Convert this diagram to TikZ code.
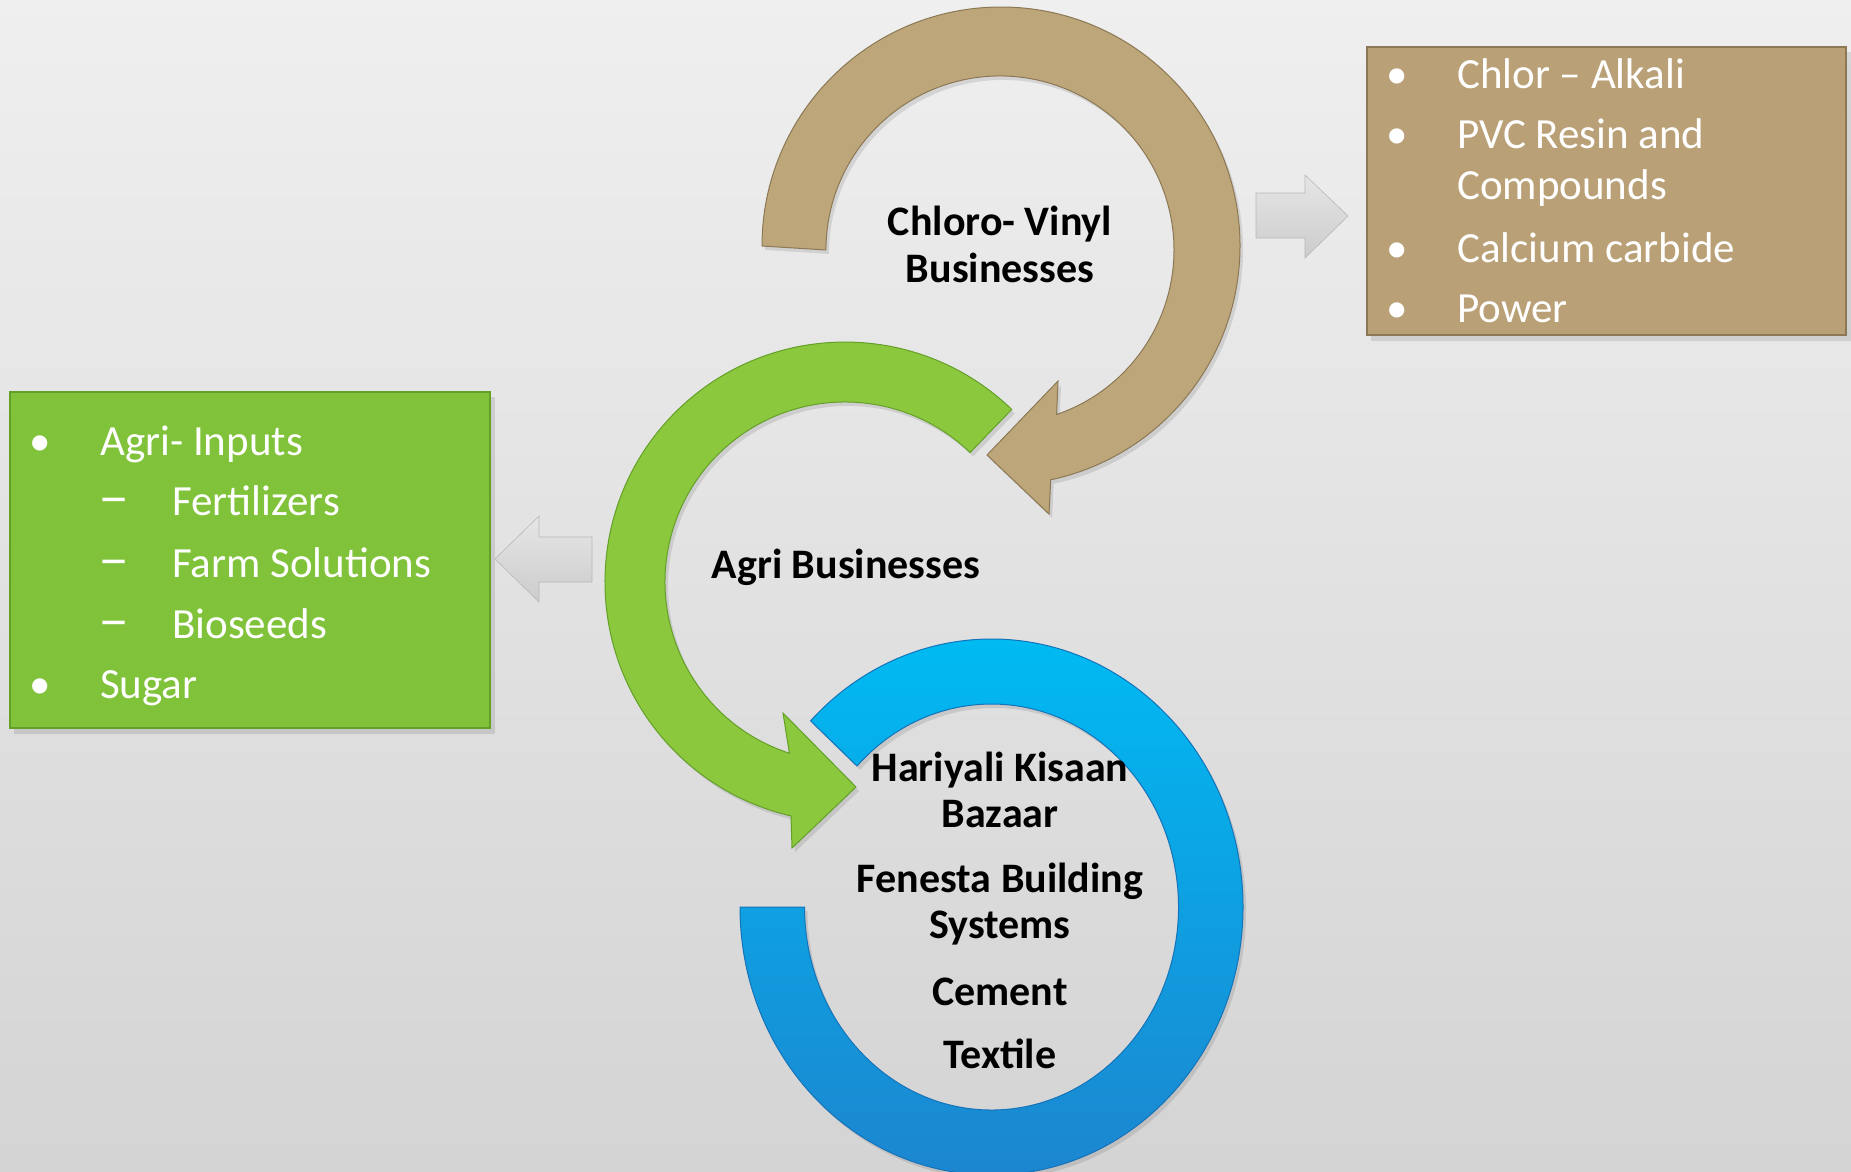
\documentclass[tikz,border=0pt]{standalone}
\usepackage{graphicx}
\usepackage{fontspec}
\setmainfont{Carlito}
\definecolor{tanc}{RGB}{188,166,122}
\definecolor{tanbox}{RGB}{185,160,118}
\definecolor{tanedge}{RGB}{140,120,84}
\definecolor{grnc}{RGB}{139,200,62}
\definecolor{grnbox}{RGB}{128,194,58}
\definecolor{grnedge}{RGB}{100,160,40}
\definecolor{bluetop}{RGB}{0,186,242}
\definecolor{bluebot}{RGB}{28,134,208}
\definecolor{blueedge}{RGB}{20,115,185}
\definecolor{bgtop}{RGB}{239,239,239}
\definecolor{bgbot}{RGB}{212,212,212}
\definecolor{arrtop}{RGB}{230,230,230}
\definecolor{arrbot}{RGB}{204,204,204}
\newcommand\TanArc{(762,246) arc[start angle=180, end angle=438, radius=239pt] -- (1049,514) -- (987,455) -- (1058,381) -- (1056.6,414.5) arc[start angle=431, end angle=180, radius=174pt] -- cycle}
\newcommand\GreenArc{(1011.7,409.4) arc[start angle=314, end angle=103, radius=240pt] -- (792,848) -- (856,787) -- (783,713) -- (789.4,753.2) arc[start angle=108, end angle=314, radius=180pt] -- cycle}
\newcommand\BlueArc{(740,907) arc[start angle=180, end angle=-136, x radius=251.5pt, y radius=268pt] -- (857,766) arc[start angle=-136, end angle=180, x radius=187pt, y radius=203pt] -- cycle}
\newcommand\SubDash{\scalebox{1.45}[1.3]{–}}
\tikzset{
  lbl/.style={font=\fontsize{42}{47}\selectfont\bfseries, text=black, inner sep=0pt, anchor=base},
  itm/.style={font=\fontsize{43}{50}\selectfont, text=white, inner sep=0pt, anchor=base west},
  bul/.style={font=\fontsize{43}{50}\selectfont, text=white, inner sep=0pt, anchor=base},
  shad/.style={fill=black, opacity=0.10},
  greyarrow/.style={top color=arrtop, bottom color=arrbot, draw=arrbot!90!black, line width=0.6pt}
}
\begin{document}
\begin{tikzpicture}[x=1pt,y=1pt,yscale=-1]
\useasboundingbox (0,0) rectangle (1851,1171);
\fill[top color=bgtop, bottom color=bgbot] (0,0) rectangle (1851,1171);

% boxes with shadows
\fill[shad] (1371,52) rectangle (1851,341);
\fill[shad] (14,397) rectangle (495,734);
\path[fill=tanbox, draw=tanedge, line width=1.2pt] (1367,47) rectangle (1846,335);
\path[fill=grnbox, draw=grnedge, line width=1.2pt] (10,392) rectangle (490,728);

% grey block arrows
\path[greyarrow] (1256,193) -- (1305,193) -- (1305,175) -- (1348,216) -- (1305,258) -- (1305,238) -- (1256,238) -- cycle;
\path[greyarrow] (592,537) -- (539,537) -- (539,516) -- (495,559) -- (539,602) -- (539,582) -- (592,582) -- cycle;

% circular arrows with faint shadows
\fill[shad, shift={(3,4)}] \BlueArc;
\path[top color=bluetop, bottom color=bluebot, draw=blueedge, line width=1pt] \BlueArc;
\fill[shad, shift={(3,4)}] \GreenArc;
\path[fill=grnc, draw=grnedge, line width=1pt] \GreenArc;
\fill[shad, shift={(3,4)}] \TanArc;
\path[fill=tanc, draw=tanedge, line width=1pt] \TanArc;

% circle labels
\node[lbl] (cv1) at (1000,235) {Chloro- Vinyl};
\node[lbl] (cv2) at (1000,282) {Businesses};
\node[lbl] (agri) at (846,578) {Agri Businesses};
\node[lbl] (hk1) at (1000,781) {Hariyali Kisaan};
\node[lbl] (hk2) at (1000,827) {Bazaar};
\node[lbl] (fb1) at (1000,892) {Fenesta Building};
\node[lbl] (fb2) at (1000,938) {Systems};
\node[lbl] (cem) at (1000,1005) {Cement};
\node[lbl] (tex) at (1000,1068) {Textile};

% tan box list
\node[bul] (tb1) at (1397,88) {•};
\node[itm] (t1) at (1457,88) {Chlor – Alkali};
\node[bul] (tb2) at (1397,148) {•};
\node[itm] (t2) at (1457,148) {PVC Resin and};
\node[itm] (t2b) at (1457,199) {Compounds};
\node[bul] (tb3) at (1397,262) {•};
\node[itm] (t3) at (1457,262) {Calcium carbide};
\node[bul] (tb4) at (1397,322) {•};
\node[itm] (t4) at (1457,322) {Power};

% green box list
\node[bul] (gb1) at (40,455) {•};
\node[itm] (g1) at (100,455) {Agri- Inputs};
\node[itm] (gd1) at (98,515) {\SubDash};
\node[itm] (g2) at (172,515) {Fertilizers};
\node[itm] (gd2) at (98,577) {\SubDash};
\node[itm] (g3) at (172,577) {Farm Solutions};
\node[itm] (gd3) at (98,638) {\SubDash};
\node[itm] (g4) at (172,638) {Bioseeds};
\node[bul] (gb2) at (40,698) {•};
\node[itm] (g5) at (100,698) {Sugar};
\end{tikzpicture}
\end{document}
